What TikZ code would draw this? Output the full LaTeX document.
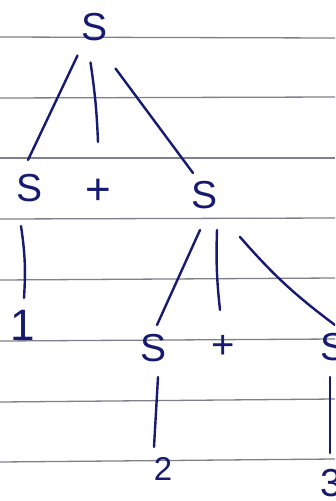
\documentclass[tikz,border=0pt]{standalone}
\usepackage{fontspec}
\setmainfont{Liberation Sans}
\definecolor{ink}{RGB}{22,26,112}
\definecolor{rule}{RGB}{128,128,140}
\tikzset{
  sym/.style={text=ink, inner sep=0pt, font=\fontsize{39}{39}\selectfont},
  edge/.style={draw=ink, line width=2.4pt, line cap=round},
  ruleline/.style={draw=rule, line width=1.3pt}
}
\begin{document}
\begin{tikzpicture}[x=1pt,y=-1pt]
\useasboundingbox (0,0) rectangle (335,501);
\clip (0,0) rectangle (335,501);
\fill[white] (0,0) rectangle (335,501);
% ruled paper
\foreach \yy/\yr in {37/38,98/97,158/158,219/218,280/278,341/339,402/399,462/459}
  \draw[ruleline] (0,\yy) -- (335,\yr);
% nodes
\node[sym] (root) at (95,27) {S};
\node[sym] (sl) at (30,188) {S};
\node[sym, font=\fontsize{44}{44}\selectfont] (p1) at (98,192) {+};
\node[sym] (sr) at (205,195) {S};
\node[sym, font=\fontsize{44}{44}\selectfont] (one) at (23,325) {1};
\node[sym] (sm) at (154,348) {S};
\node[sym, font=\fontsize{40}{40}\selectfont] (p2) at (223,347) {+};
\node[sym] (sf) at (334,347) {S};
\node[sym, font=\fontsize{33}{33}\selectfont] (two) at (163,469) {2};
\node[sym] (three) at (331,483) {3};
% connectors
\draw[edge] ([shift={(-17.5,28.5)}]root.center) -- ([shift={(-2,-28)}]sl.center);
\draw[edge] ([shift={(-4.5,35.5)}]root.center) to[bend left=3] ([shift={(0,-50)}]p1.center);
\draw[edge] ([shift={(20.5,41.5)}]root.center) -- ([shift={(-12,-22)}]sr.center);
\draw[edge] ([shift={(-9,38)}]sl.center) to[bend left=6] ([shift={(1,-27)}]one.center);
\draw[edge] ([shift={(-5,35)}]sr.center) -- ([shift={(3,-23)}]sm.center);
\draw[edge] ([shift={(12,35)}]sr.center) to[bend right=4] ([shift={(-3,-37)}]p2.center);
\draw[edge] ([shift={(35,42)}]sr.center) to[bend right=6] ([shift={(1,-22)}]sf.center);
\draw[edge] ([shift={(4,29)}]sm.center) -- ([shift={(-9,-22)}]two.center);
\draw[edge] ([shift={(-4,30)}]sf.center) -- ([shift={(-1,-30)}]three.center);
\end{tikzpicture}
\end{document}
